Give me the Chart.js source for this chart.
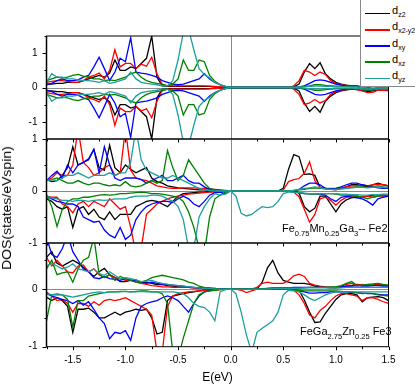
<!DOCTYPE html>
<html>
<head>
<meta charset="utf-8">
<script src="https://cdn.jsdelivr.net/npm/chart.js@4.4.0/dist/chart.umd.min.js"></script>
<style>
html, body { margin: 0; padding: 0; background: #fff; }
body { width: 415px; height: 385px; position: relative; overflow: hidden; font-family: "Liberation Sans", Arial, sans-serif; }
canvas { position: absolute; left: 0; top: 0; }
.note { position: absolute; white-space: nowrap; color: #000; font-size: 11px; line-height: 11px; }
.note sub { font-size: 7.5px; vertical-align: baseline; position: relative; top: 4px; }
#ytitle { position: absolute; left: 7px; top: 208px; white-space: nowrap; font-size: 12.5px; line-height: 14px;
  transform: translate(-50%, -50%) rotate(-90deg) scaleX(1.12); }
#legend { position: absolute; left: 360px; top: -1px; width: 70px; height: 86px; border: 1px solid #8a8a8a; background: #fff; }
#legend .row { position: absolute; left: 0; width: 70px; height: 16px; }
#legend .swatch { position: absolute; left: 3.5px; top: 7.5px; width: 25px; height: 1.6px; }
#legend .txt { position: absolute; left: 31px; top: 0px; font-size: 11px; line-height: 11px; white-space: nowrap; }
#legend .txt sub { font-size: 7px; vertical-align: baseline; position: relative; top: 3px; }
</style>
</head>
<body>
<canvas id="panelTop" width="415" height="385"></canvas>
<canvas id="panelMid" width="415" height="385"></canvas>
<canvas id="panelBot" width="415" height="385"></canvas>
<div id="ytitle">DOS(states/eVspin)</div>
<div class="note" style="left:282px; top:222.5px;">Fe<sub>0.75</sub>Mn<sub>0.25</sub>Ga<sub>3</sub>-- Fe2</div>
<div class="note" style="left:300px; top:326px;">FeGa<sub>2.75</sub>Zn<sub>0.25</sub> Fe3</div>
<div id="legend"></div>
<script>
'use strict';

// energy grid (eV), shared by every curve
const energy = [-1.75,-1.70,-1.65,-1.60,-1.55,-1.50,-1.45,-1.40,-1.35,-1.30,
  -1.25,-1.20,-1.15,-1.10,-1.05,-1.00,-0.95,-0.90,-0.85,-0.80,
  -0.75,-0.70,-0.65,-0.60,-0.55,-0.50,-0.45,-0.40,-0.35,-0.30,
  -0.25,-0.20,-0.15,-0.10,-0.05,0.00,0.05,0.10,0.15,0.20,
  0.25,0.30,0.35,0.40,0.45,0.50,0.55,0.60,0.65,0.70,
  0.75,0.80,0.85,0.90,0.95,1.00,1.05,1.10,1.15,1.20,
  1.25,1.30,1.35,1.40,1.45,1.50];

const orbitals = ['z2', 'x2-y2', 'xy', 'xz', 'yz'];
const orbitalColors = ['#000000', '#ff0000', '#0000ff', '#008000', '#1f9e9e'];
const xTicks = [-1.5, -1.0, -0.5, 0.0, 0.5, 1.0, 1.5];

// ---- top panel: spin up ----
const topUpDz2 = [0.10,0.10,0.12,0.12,0.15,0.15,0.15,0.20,0.25,0.30,
  0.35,0.30,0.42,0.80,0.50,0.50,0.60,0.55,0.70,0.85,
  1.50,0.30,0.05,0.03,0.03,0.03,0.03,0.03,0.03,0.03,
  0.03,0.03,0.02,0.01,0.00,0.00,0.00,0.00,0.00,0.00,
  0.00,0.00,0.00,0.00,0.00,0.00,0.00,0.02,0.10,0.45,
  0.70,0.55,0.72,0.40,0.25,0.15,0.10,0.07,0.05,0.05,
  0.02,0.00,-0.03,-0.02,-0.03,-0.03];
const topUpDx2 = [0.15,0.18,0.20,0.20,0.18,0.15,0.15,0.20,0.30,0.35,
  0.42,0.25,0.50,1.10,0.60,0.70,0.70,0.55,0.68,0.62,
  0.88,0.40,0.08,0.05,0.05,0.05,0.05,0.05,0.05,0.05,
  0.05,0.04,0.03,0.02,0.01,0.00,0.00,0.00,0.00,0.00,
  0.00,0.00,0.00,0.00,0.00,0.00,0.00,0.05,0.20,0.50,
  0.45,0.35,0.45,0.38,0.20,0.12,0.08,0.06,0.05,0.05,
  0.00,-0.04,-0.06,-0.03,-0.03,-0.05];
const topUpDxy = [0.08,0.12,0.20,0.25,0.20,0.20,0.22,0.30,0.35,0.60,
  0.88,0.55,0.20,0.45,0.85,0.75,1.45,0.45,0.42,0.40,
  0.35,0.30,0.20,0.15,0.10,0.08,0.10,0.15,0.20,0.25,
  0.40,0.25,0.15,0.08,0.03,0.00,0.00,0.00,0.00,0.00,
  0.00,0.00,0.00,0.00,0.00,0.00,0.00,0.00,0.02,0.05,
  0.12,0.20,0.22,0.20,0.15,0.10,0.07,0.05,0.04,0.03,
  0.00,-0.02,-0.03,-0.02,-0.01,-0.02];
const topUpDxz = [0.20,0.25,0.30,0.28,0.30,0.35,0.38,0.33,0.30,0.25,
  0.25,0.20,0.22,0.20,0.25,0.30,0.40,0.45,0.30,0.20,
  0.15,0.12,0.10,0.05,0.10,0.25,0.80,0.50,0.50,0.80,
  0.75,0.35,0.18,0.08,0.03,0.00,0.00,0.00,0.00,0.00,
  0.00,0.00,0.00,0.00,0.00,0.00,0.00,0.00,0.01,0.03,
  0.05,0.08,0.08,0.06,0.05,0.04,0.03,0.03,0.02,0.02,
  0.00,-0.03,-0.04,-0.02,-0.02,-0.03];
const topUpDyz = [0.15,0.40,0.30,0.30,0.25,0.25,0.22,0.20,0.20,0.18,
  0.15,0.20,0.12,0.15,0.20,0.25,0.45,0.25,0.15,0.12,
  0.10,0.08,0.05,0.05,0.20,0.80,1.60,1.70,1.10,0.55,
  0.38,0.28,0.15,0.08,0.03,0.00,0.00,0.00,0.00,0.00,
  0.00,0.00,0.00,0.00,0.00,0.00,0.00,0.00,0.01,0.02,
  0.03,0.04,0.04,0.03,0.03,0.02,0.02,0.02,0.02,0.02,
  0.00,-0.01,-0.02,-0.01,-0.01,-0.01];

// ---- top panel: spin down ----
const topDnDz2 = [-0.10,-0.10,-0.12,-0.12,-0.15,-0.15,-0.15,-0.20,-0.25,-0.30,
  -0.35,-0.30,-0.42,-0.80,-0.50,-0.50,-0.60,-0.55,-0.70,-0.85,
  -1.50,-0.30,-0.05,-0.03,-0.03,-0.03,-0.03,-0.03,-0.03,-0.03,
  -0.03,-0.03,-0.02,-0.01,0.00,0.00,0.00,0.00,0.00,0.00,
  0.00,0.00,0.00,0.00,0.00,0.00,0.00,-0.02,-0.10,-0.45,
  -0.70,-0.55,-0.72,-0.40,-0.25,-0.15,-0.10,-0.07,-0.05,-0.06,
  -0.08,-0.12,-0.10,-0.07,-0.08,-0.08];
const topDnDx2 = [-0.15,-0.18,-0.20,-0.20,-0.18,-0.15,-0.15,-0.20,-0.30,-0.35,
  -0.42,-0.25,-0.50,-1.10,-0.60,-0.70,-0.70,-0.55,-0.68,-0.62,
  -0.88,-0.40,-0.08,-0.05,-0.05,-0.05,-0.05,-0.05,-0.05,-0.05,
  -0.05,-0.04,-0.03,-0.02,-0.01,0.00,0.00,0.00,0.00,0.00,
  0.00,0.00,0.00,0.00,0.00,0.00,0.00,-0.05,-0.20,-0.50,
  -0.45,-0.35,-0.45,-0.38,-0.20,-0.12,-0.08,-0.06,-0.05,-0.06,
  -0.10,-0.15,-0.14,-0.08,-0.08,-0.10];
const topDnDxy = [-0.08,-0.12,-0.20,-0.25,-0.20,-0.20,-0.22,-0.30,-0.35,-0.60,
  -0.88,-0.55,-0.20,-0.45,-0.85,-0.75,-1.45,-0.45,-0.42,-0.40,
  -0.35,-0.30,-0.20,-0.15,-0.10,-0.08,-0.10,-0.15,-0.20,-0.25,
  -0.40,-0.25,-0.15,-0.08,-0.03,0.00,0.00,0.00,0.00,0.00,
  0.00,0.00,0.00,0.00,0.00,0.00,0.00,0.00,-0.02,-0.05,
  -0.12,-0.20,-0.22,-0.20,-0.15,-0.10,-0.07,-0.05,-0.04,-0.04,
  -0.06,-0.08,-0.07,-0.05,-0.05,-0.06];
const topDnDxz = [-0.20,-0.25,-0.30,-0.28,-0.30,-0.35,-0.38,-0.33,-0.30,-0.25,
  -0.25,-0.20,-0.22,-0.20,-0.25,-0.30,-0.40,-0.45,-0.30,-0.20,
  -0.15,-0.12,-0.10,-0.05,-0.10,-0.25,-0.80,-0.50,-0.50,-0.80,
  -0.75,-0.35,-0.18,-0.08,-0.03,0.00,0.00,0.00,0.00,0.00,
  0.00,0.00,0.00,0.00,0.00,0.00,0.00,0.00,-0.01,-0.03,
  -0.05,-0.08,-0.08,-0.06,-0.05,-0.04,-0.03,-0.03,-0.03,-0.04,
  -0.06,-0.08,-0.07,-0.05,-0.05,-0.06];
const topDnDyz = [-0.15,-0.40,-0.30,-0.30,-0.25,-0.25,-0.22,-0.20,-0.20,-0.18,
  -0.15,-0.20,-0.12,-0.15,-0.20,-0.25,-0.45,-0.25,-0.15,-0.12,
  -0.10,-0.08,-0.05,-0.05,-0.20,-0.80,-1.60,-1.70,-1.10,-0.55,
  -0.38,-0.28,-0.15,-0.08,-0.03,0.00,0.00,0.00,0.00,0.00,
  0.00,0.00,0.00,0.00,0.00,0.00,0.00,0.00,-0.01,-0.02,
  -0.03,-0.04,-0.04,-0.03,-0.03,-0.02,-0.02,-0.02,-0.02,-0.03,
  -0.04,-0.05,-0.05,-0.04,-0.04,-0.04];

// ---- middle panel (Fe2): spin up ----
const midUpDz2 = [0.22,0.18,0.20,0.30,0.45,0.85,0.50,0.55,0.60,0.80,
  0.45,0.40,0.88,0.45,0.35,0.50,0.42,0.35,0.40,0.45,
  0.25,0.18,0.15,0.10,0.08,0.06,0.05,0.04,0.03,0.02,
  0.02,0.01,0.01,0.00,0.00,0.00,0.00,0.00,0.00,0.00,
  0.00,0.00,0.00,0.00,0.00,0.05,0.42,0.70,0.66,0.32,
  0.33,0.30,0.07,0.05,0.03,0.02,0.05,0.08,0.12,0.12,
  0.10,0.08,0.12,0.15,0.12,0.10];
const midUpDx2 = [0.20,0.25,0.35,0.30,0.30,0.50,1.20,0.55,0.45,0.30,
  0.35,0.45,0.50,0.30,0.35,1.20,0.40,0.25,0.22,0.20,
  0.15,0.10,0.08,0.06,0.05,0.05,0.06,0.06,0.06,0.05,
  0.05,0.04,0.03,0.02,0.01,0.00,0.00,0.00,0.00,0.00,
  0.00,0.00,0.00,0.00,0.00,0.02,0.18,0.22,0.24,0.34,
  0.56,0.20,0.07,0.05,0.05,0.05,0.06,0.08,0.10,0.10,
  0.12,0.10,0.12,0.13,0.12,0.10];
const midUpDxy = [0.20,0.30,0.38,0.25,0.50,0.35,0.50,0.55,0.62,0.80,
  0.35,0.85,0.50,0.25,0.20,0.25,0.25,0.25,0.22,0.15,
  0.20,0.25,0.30,0.20,0.20,0.25,0.30,0.20,0.15,0.15,
  0.08,0.03,0.02,0.01,0.00,0.00,0.00,0.00,0.00,0.00,
  0.00,0.00,0.00,0.00,0.00,0.00,0.00,0.00,0.03,0.10,
  0.15,0.15,0.12,0.05,0.04,0.05,0.08,0.12,0.15,0.15,
  0.12,0.10,0.08,0.06,0.05,0.05];
const midUpDxz = [0.20,0.22,0.25,0.20,0.15,0.15,0.20,0.15,0.12,0.15,
  0.15,0.12,0.10,0.12,0.10,0.18,0.10,0.08,0.10,0.15,
  0.20,0.15,0.20,0.78,0.45,0.20,0.30,0.60,0.45,0.30,
  0.15,0.05,0.02,0.01,0.00,0.00,0.00,0.00,0.00,0.00,
  0.00,0.00,0.00,0.00,0.00,0.00,0.00,0.01,0.02,0.03,
  0.05,0.06,0.05,0.04,0.03,0.03,0.04,0.05,0.07,0.08,
  0.08,0.07,0.08,0.10,0.08,0.07];
const midUpDyz = [0.20,0.22,0.20,0.25,0.30,0.30,0.35,0.30,0.25,0.30,
  0.30,0.30,0.35,0.30,0.35,0.35,0.55,1.20,0.60,0.40,
  0.35,0.30,0.25,0.25,0.30,0.25,0.20,0.15,0.10,0.05,
  0.02,0.01,0.00,0.00,0.00,0.00,0.00,0.00,0.00,0.00,
  0.00,0.00,0.00,0.00,0.00,0.00,0.00,0.01,0.03,0.05,
  0.06,0.08,0.06,0.04,0.03,0.03,0.04,0.05,0.06,0.07,
  0.07,0.06,0.07,0.08,0.07,0.06];

// ---- middle panel (Fe2): spin down ----
const midDnDz2 = [-0.15,-0.20,-0.30,-0.35,-0.30,-0.70,-0.35,-0.30,-0.45,-0.35,
  -0.50,-0.55,-0.40,-0.55,-0.45,-0.45,-0.45,-0.30,-0.25,-0.20,
  -0.18,-0.20,-0.25,-0.30,-0.20,-0.10,-0.05,-0.04,-0.03,-0.02,
  -0.02,-0.01,-0.01,0.00,0.00,0.00,0.00,0.00,0.00,0.00,
  0.00,0.00,0.00,0.00,0.00,0.00,0.00,0.00,-0.04,-0.30,
  -0.40,-0.33,-0.10,-0.10,-0.25,-0.40,-0.25,-0.17,-0.13,-0.10,
  -0.12,-0.10,-0.08,-0.07,-0.08,-0.10];
const midDnDx2 = [-0.10,-0.12,-0.12,-0.25,-0.30,-0.42,-0.25,-0.20,-0.30,-0.20,
  -0.25,-0.30,-0.15,-0.25,-0.35,-0.30,-0.70,-1.20,-1.10,-0.45,
  -0.35,-0.25,-0.20,-0.15,-0.12,-0.10,-0.08,-0.06,-0.05,-0.04,
  -0.03,-0.02,-0.02,-0.01,0.00,0.00,0.00,0.00,0.00,0.00,
  0.00,0.00,0.00,0.00,0.00,0.00,0.00,-0.02,-0.11,-0.35,
  -0.60,-0.45,-0.15,-0.12,-0.18,-0.27,-0.18,-0.12,-0.10,-0.10,
  -0.12,-0.10,-0.12,-0.10,-0.10,-0.10];
const midDnDxy = [-0.10,-0.15,-0.20,-0.22,-0.25,-0.25,-0.30,-0.50,-0.55,-0.60,
  -0.58,-0.75,-0.85,-0.90,-0.70,-0.93,-0.85,-0.55,-0.40,-0.30,
  -0.25,-0.22,-0.20,-0.20,-0.22,-0.15,-0.10,-0.15,-0.25,-0.30,
  -0.20,-0.08,-0.03,-0.02,-0.05,0.00,0.00,0.00,0.00,0.00,
  0.00,0.00,0.00,0.00,0.00,0.00,0.00,0.00,-0.03,-0.05,
  -0.05,-0.05,-0.06,-0.08,-0.15,-0.20,-0.12,-0.10,-0.12,-0.13,
  -0.15,-0.20,-0.27,-0.15,-0.12,-0.10];
const midDnDxz = [-0.07,-0.30,-0.68,-0.35,-0.20,-0.15,-0.15,-0.12,-0.12,-0.10,
  -0.08,-0.07,-0.08,-0.07,-0.05,-0.05,-0.04,-0.03,-0.02,-0.03,
  -0.05,-0.05,-0.06,-0.08,-0.10,-0.12,-0.20,-0.40,-0.70,-1.10,
  -1.20,-0.50,-0.15,-0.08,-0.02,0.00,0.00,0.00,0.00,0.00,
  0.00,0.00,0.00,0.00,0.00,0.00,0.00,-0.02,-0.03,-0.05,
  -0.06,-0.06,-0.05,-0.05,-0.05,-0.06,-0.08,-0.08,-0.09,-0.10,
  -0.12,-0.15,-0.12,-0.10,-0.08,-0.08];
const midDnDyz = [-0.10,-0.13,-0.15,-0.18,-0.18,-0.20,-0.18,-0.18,-0.20,-0.18,
  -0.17,-0.18,-0.17,-0.15,-0.15,-0.15,-0.12,-0.10,-0.10,-0.10,
  -0.08,-0.08,-0.10,-0.15,-0.20,-0.30,-0.55,-1.10,-1.10,-0.50,
  -0.30,-0.15,-0.05,-0.08,-0.06,0.00,-0.10,-0.43,-0.48,-0.45,
  -0.37,-0.30,-0.32,-0.30,-0.20,-0.05,-0.02,-0.02,-0.03,-0.04,
  -0.05,-0.05,-0.05,-0.05,-0.05,-0.05,-0.06,-0.06,-0.07,-0.07,
  -0.08,-0.08,-0.07,-0.07,-0.06,-0.06];

// ---- bottom panel (Fe3): spin up ----
const botUpDz2 = [0.55,0.65,0.45,0.40,0.45,0.50,0.45,0.38,0.30,0.22,
  0.30,0.36,0.25,0.20,0.13,0.13,0.15,0.16,0.10,0.12,
  0.10,0.08,0.08,0.06,0.05,0.04,0.03,0.03,0.02,0.02,
  0.01,0.01,0.00,0.00,0.00,0.00,0.00,0.00,0.00,0.00,
  0.00,0.12,0.37,0.50,0.28,0.15,0.12,0.10,0.10,0.10,
  0.08,0.05,0.04,0.03,0.02,0.02,0.03,0.05,0.06,0.08,
  0.07,0.06,0.07,0.08,0.07,0.06];
const botUpDx2 = [0.55,0.40,0.50,0.40,0.30,0.28,0.40,0.42,0.30,0.35,
  0.25,0.20,0.25,0.20,0.18,0.15,0.15,0.12,0.10,0.08,
  0.06,0.05,0.04,0.04,0.03,0.03,0.03,0.03,0.02,0.02,
  0.02,0.01,0.01,0.00,0.00,0.00,0.00,0.00,0.00,0.00,
  0.03,0.10,0.12,0.10,0.10,0.10,0.15,0.23,0.26,0.22,
  0.10,0.07,0.05,0.04,0.03,0.03,0.05,0.08,0.10,0.07,
  0.08,0.07,0.06,0.08,0.07,0.06];
const botUpDxy = [0.90,0.60,0.55,0.70,0.95,0.65,0.50,0.35,0.30,0.20,
  0.18,0.22,0.18,0.17,0.15,0.18,0.15,0.15,0.12,0.10,
  0.12,0.10,0.08,0.08,0.07,0.06,0.05,0.04,0.03,0.02,
  0.01,0.01,0.00,0.00,0.00,0.00,0.00,0.00,0.00,0.00,
  0.00,0.00,0.01,0.02,0.02,0.02,0.02,0.03,0.03,0.03,
  0.03,0.03,0.03,0.03,0.03,0.03,0.04,0.05,0.05,0.06,
  0.05,0.05,0.06,0.06,0.05,0.05];
const botUpDxz = [0.35,0.50,0.25,0.28,0.30,0.12,0.35,0.50,0.55,0.90,
  0.25,0.20,0.25,0.15,0.22,0.18,0.15,0.12,0.12,0.15,
  0.20,0.22,0.24,0.22,0.20,0.18,0.16,0.12,0.10,0.05,
  0.03,0.02,0.01,0.00,0.00,0.00,0.00,0.00,0.00,0.00,
  0.00,0.00,0.01,0.01,0.02,0.02,0.02,0.02,0.02,0.02,
  0.03,0.03,0.03,0.03,0.04,0.04,0.06,0.10,0.13,0.06,
  0.07,0.08,0.09,0.10,0.08,0.07];
const botUpDyz = [0.40,0.45,0.40,0.35,0.38,0.44,0.35,0.33,0.30,0.35,
  0.27,0.24,0.30,0.24,0.18,0.20,0.18,0.16,0.13,0.14,
  0.15,0.12,0.10,0.08,0.07,0.06,0.05,0.04,0.03,0.02,
  0.01,0.01,0.00,0.00,0.00,0.00,0.00,0.00,0.00,0.00,
  0.00,0.00,0.00,0.01,0.01,0.01,0.01,0.01,0.01,0.02,
  0.02,0.02,0.02,0.02,0.02,0.02,0.02,0.03,0.03,0.03,
  0.03,0.03,0.03,0.03,0.03,0.03];

// ---- bottom panel (Fe3): spin down ----
const botDnDz2 = [-0.14,-0.20,-0.15,-0.20,-0.30,-0.75,-0.35,-0.35,-0.33,-0.40,
  -0.50,-0.50,-0.45,-0.40,-0.45,-0.40,-0.38,-0.35,-0.37,-0.35,
  -0.50,-0.78,-0.75,-0.20,-0.12,-0.10,-0.08,-0.06,-0.05,-0.03,
  -0.02,-0.01,0.00,0.00,0.00,0.00,0.00,0.00,0.00,0.00,
  0.00,0.00,0.00,0.00,0.00,0.00,0.00,0.00,-0.02,-0.19,
  -0.40,-0.58,-0.57,-0.42,-0.30,-0.18,-0.10,-0.08,-0.08,-0.10,
  -0.22,-0.15,-0.14,-0.13,-0.15,-0.20];
const botDnDx2 = [-0.05,-0.12,-0.20,-0.18,-0.25,-0.40,-0.25,-0.25,-0.30,-0.22,
  -0.28,-0.20,-0.18,-0.20,-0.18,-0.15,-0.20,-0.25,-0.30,-0.35,
  -0.45,-1.10,-1.10,-0.30,-0.12,-0.08,-0.06,-0.05,-0.04,-0.03,
  -0.02,-0.02,-0.02,-0.01,0.00,0.00,0.00,-0.02,-0.06,-0.03,
  0.00,0.00,0.00,0.00,0.00,0.00,0.00,-0.02,-0.10,-0.25,
  -0.45,-0.50,-0.37,-0.30,-0.20,-0.12,-0.08,-0.08,-0.10,-0.12,
  -0.20,-0.15,-0.15,-0.18,-0.22,-0.25];
const botDnDxy = [-0.08,-0.12,-0.15,-0.18,-0.20,-0.25,-0.20,-0.28,-0.22,-0.35,
  -0.50,-0.60,-0.86,-0.75,-0.77,-0.72,-0.89,-0.50,-0.30,-0.25,
  -0.22,-0.20,-0.15,-0.12,-0.15,-0.20,-0.30,-0.40,-0.25,-0.12,
  -0.05,-0.03,-0.01,0.00,0.00,0.00,0.00,0.00,0.00,0.00,
  0.00,0.00,0.00,0.00,0.00,0.00,0.00,0.00,-0.03,-0.05,
  -0.07,-0.07,-0.06,-0.06,-0.05,-0.05,-0.05,-0.05,-0.06,-0.06,
  -0.07,-0.08,-0.08,-0.09,-0.10,-0.10];
const botDnDxz = [-0.55,-0.10,-0.10,-0.10,-0.18,-0.66,-0.20,-0.20,-0.12,-0.10,
  -0.08,-0.06,-0.05,-0.05,-0.04,-0.04,-0.05,-0.04,-0.03,-0.03,
  -0.05,-0.05,-0.08,-0.25,-1.10,-1.20,-0.85,-0.55,-0.25,-0.10,
  -0.05,-0.03,-0.02,-0.01,0.00,0.00,0.00,0.00,0.00,0.00,
  0.00,0.00,0.00,0.00,0.00,0.00,-0.01,-0.02,-0.02,-0.03,
  -0.03,-0.03,-0.03,-0.03,-0.03,-0.03,-0.04,-0.05,-0.05,-0.06,
  -0.08,-0.07,-0.08,-0.10,-0.11,-0.12];
const botDnDyz = [-0.08,-0.10,-0.08,-0.10,-0.12,-0.14,-0.12,-0.10,-0.08,-0.06,
  -0.05,-0.06,-0.05,-0.05,-0.05,-0.04,-0.05,-0.05,-0.04,-0.05,
  -0.05,-0.05,-0.05,-0.05,-0.05,-0.06,-0.08,-0.15,-0.25,-0.30,
  -0.32,-0.40,-0.55,-0.05,-0.01,0.00,-0.08,-0.40,-0.80,-1.10,
  -0.75,-0.68,-0.62,-0.55,-0.40,-0.10,-0.02,-0.03,-0.05,-0.10,
  -0.16,-0.20,-0.15,-0.10,-0.07,-0.05,-0.05,-0.05,-0.05,-0.05,
  -0.05,-0.05,-0.05,-0.05,-0.05,-0.05];

// frame, zero lines and tick marks for each panel
const panelFrame = {
    id: 'panelFrame',
    beforeDatasetsDraw(chart) {
        const {ctx, chartArea: a, scales} = chart;
        const y0 = Math.round(scales.y.getPixelForValue(0)) + 0.5;
        const x0 = Math.round(scales.x.getPixelForValue(0)) + 0.5;
        ctx.save();
        ctx.strokeStyle = '#8a8a8a';
        ctx.lineWidth = 1;
        ctx.beginPath();
        ctx.moveTo(a.left, y0); ctx.lineTo(a.right, y0);
        ctx.moveTo(x0, a.top); ctx.lineTo(x0, a.bottom);
        ctx.stroke();
        ctx.restore();
    },
    afterDatasetsDraw(chart) {
        const {ctx, chartArea: a, scales} = chart;
        const xs = scales.x, ys = scales.y;
        ctx.save();
        ctx.strokeStyle = '#000';
        ctx.lineWidth = 1;
        ctx.strokeRect(a.left, a.top, a.right - a.left, a.bottom - a.top);
        ctx.lineWidth = 1.5;
        ctx.beginPath();
        ctx.moveTo(a.left, a.top); ctx.lineTo(a.left, a.bottom);
        ctx.stroke();
        ctx.lineWidth = 1;
        ctx.beginPath();
        for (let v = Math.ceil(ys.min * 2) / 2; v <= ys.max + 1e-9; v += 0.5) {
            const py = Math.round(ys.getPixelForValue(v)) + 0.5;
            const len = Math.abs(v % 1) < 1e-9 ? 4 : 2;
            ctx.moveTo(a.left - len, py); ctx.lineTo(a.left, py);
        }
        for (let v = -1.75; v <= 1.5 + 1e-9; v += 0.25) {
            const px = Math.round(xs.getPixelForValue(v)) + 0.5;
            const len = Math.abs((v * 2) % 1) < 1e-9 ? 3.5 : 2.5;
            ctx.moveTo(px, a.bottom); ctx.lineTo(px, a.bottom + len);
        }
        ctx.stroke();
        ctx.restore();
    }
};

function buildPanel(canvasId, upSets, dnSets, yMin, yMax, yTicks, padTop, padBottom, showX) {
    let datasets = [];
    [upSets, dnSets].forEach(sets => {
        sets.forEach((vals, k) => {
            datasets.push({
                label: 'd' + orbitals[k],
                data: vals.map((v, i) => ({x: energy[i], y: v})),
                borderColor: orbitalColors[k],
                borderWidth: 1.3,
                pointRadius: 0,
                tension: 0,
                fill: false,
                order: orbitals.length - k
            });
        });
    });

    let xScale = {
        type: 'linear',
        min: -1.75,
        max: 1.5,
        display: showX,
        grid: {display: false, drawTicks: false},
        border: {display: false},
        afterBuildTicks: s => { s.ticks = xTicks.map(v => ({value: v})); },
        ticks: {
            padding: 8,
            autoSkip: false,
            maxRotation: 0,
            color: '#000',
            font: {family: 'Liberation Sans, Arial', size: 10},
            callback: v => Number(v).toFixed(1)
        },
        title: {
            display: showX,
            text: 'E(eV)',
            color: '#000',
            padding: 0,
            font: {family: 'Liberation Sans, Arial', size: 12}
        }
    };
    if (showX) {
        xScale.afterFit = s => { s.height = 38.3; };
    }

    let config = {
        type: 'line',
        data: {datasets: datasets},
        options: {
            responsive: false,
            animation: false,
            devicePixelRatio: 1,
            layout: {padding: {left: 0, right: 26.5, top: padTop, bottom: padBottom}},
            plugins: {legend: {display: false}, tooltip: {enabled: false}},
            scales: {
                x: xScale,
                y: {
                    min: yMin,
                    max: yMax,
                    grid: {display: false, drawTicks: false},
                    border: {display: false},
                    afterBuildTicks: s => { s.ticks = yTicks.map(v => ({value: v})); },
                    afterFit: s => { s.width = 46.5; },
                    ticks: {
                        padding: 9,
                        color: '#000',
                        font: {family: 'Liberation Sans, Arial', size: 10},
                        callback: v => String(v)
                    }
                }
            }
        },
        plugins: [panelFrame]
    };
    return new Chart(document.getElementById(canvasId).getContext('2d'), config);
}

buildPanel('panelTop',
    [topUpDz2, topUpDx2, topUpDxy, topUpDxz, topUpDyz],
    [topDnDz2, topDnDx2, topDnDxy, topDnDxz, topDnDyz],
    -1.5, 1.5, [-1, 0, 1], 36, 246, false);
buildPanel('panelMid',
    [midUpDz2, midUpDx2, midUpDxy, midUpDxz, midUpDyz],
    [midDnDz2, midDnDx2, midDnDxy, midDnDxz, midDnDyz],
    -1, 1, [-1, 0, 1], 139, 142, false);
buildPanel('panelBot',
    [botUpDz2, botUpDx2, botUpDxy, botUpDxz, botUpDyz],
    [botDnDz2, botDnDx2, botDnDxy, botDnDxz, botDnDyz],
    -1, 0.8, [-1, 0], 243, 0, true);

// legend box (orbital names with subscripts)
const legendBox = document.getElementById('legend');
orbitals.forEach((name, k) => {
    const row = document.createElement('div');
    row.className = 'row';
    row.style.top = (12.7 + k * 16.25 - 7.5) + 'px';
    const sw = document.createElement('span');
    sw.className = 'swatch';
    sw.style.background = orbitalColors[k];
    const txt = document.createElement('span');
    txt.className = 'txt';
    txt.innerHTML = 'd<sub>' + name + '</sub>';
    row.appendChild(sw);
    row.appendChild(txt);
    legendBox.appendChild(row);
});
</script>
</body>
</html>
